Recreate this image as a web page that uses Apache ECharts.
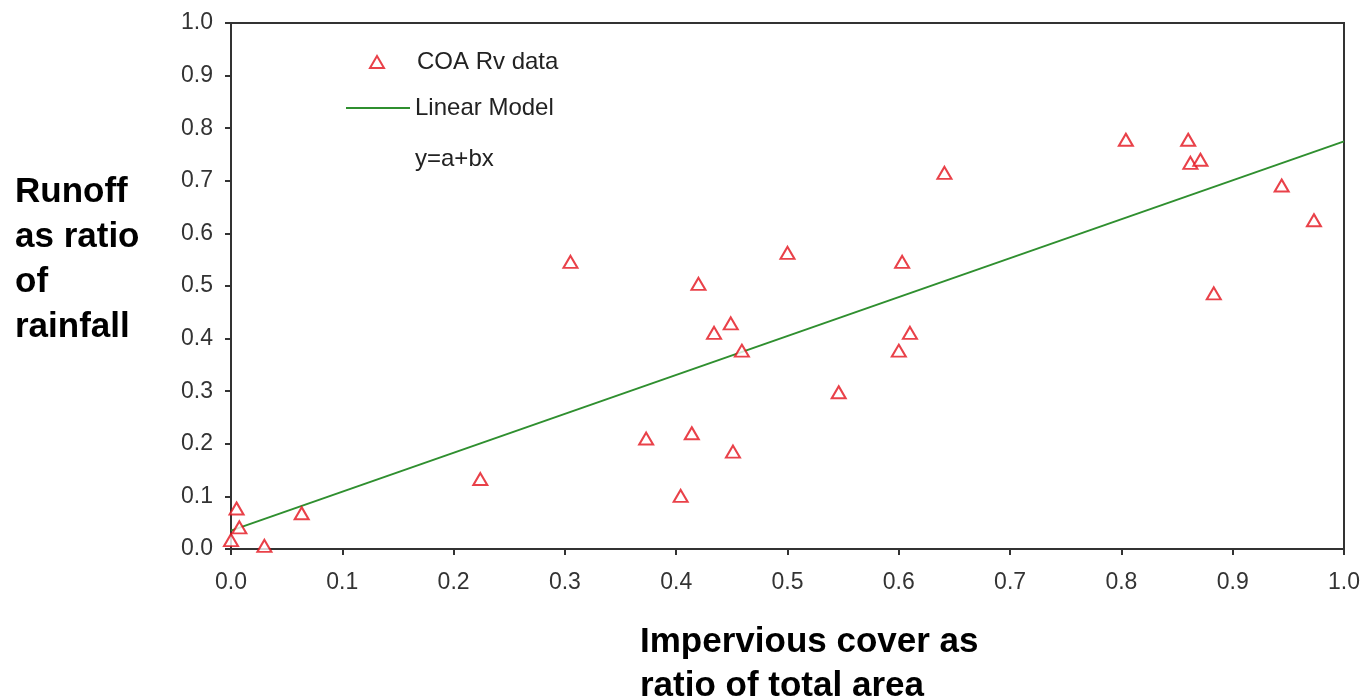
<!DOCTYPE html>
<html>
<head>
<meta charset="utf-8">
<script src="https://cdn.jsdelivr.net/npm/echarts@6/dist/echarts.min.js"></script>
<style>
  html, body { margin: 0; padding: 0; background: #fff; }
  #chart { width: 1369px; height: 700px; }
</style>
</head>
<body>
<div id="chart"></div>
<script>
// Measured points (impervious ratio, runoff ratio)
const imperviousX = [0.0, 0.005, 0.0075, 0.030, 0.0635, 0.224, 0.305, 0.373, 0.404, 0.414,
  0.420, 0.434, 0.449, 0.451, 0.459, 0.500, 0.546, 0.600, 0.603, 0.610,
  0.641, 0.804, 0.860, 0.862, 0.871, 0.883, 0.944, 0.973];
const runoffY = [0.017, 0.077, 0.041, 0.006, 0.068, 0.133, 0.546, 0.210, 0.101, 0.220,
  0.504, 0.411, 0.429, 0.185, 0.377, 0.563, 0.298, 0.377, 0.546, 0.411,
  0.715, 0.778, 0.778, 0.734, 0.740, 0.486, 0.691, 0.625];

// Fitted line end points
const modelX = [0.0, 1.0];
const modelY = [0.035, 0.775];

const axisTicks = [0.0, 0.1, 0.2, 0.3, 0.4, 0.5, 0.6, 0.7, 0.8, 0.9, 1.0];

const RED = '#e3121c';
const GREEN = '#2f8f2f';

const chart = echarts.init(document.getElementById('chart'));

const axisCommon = {
  type: 'value',
  min: axisTicks[0],
  max: axisTicks[axisTicks.length - 1],
  interval: 0.1,
  axisLine: {show: true, lineStyle: {color: '#333', width: 2}},
  axisTick: {show: true, inside: false, length: 6, lineStyle: {color: '#333', width: 2}},
  splitLine: {show: false},
  axisLabel: {
    color: '#333',
    fontFamily: 'Liberation Sans',
    fontSize: 23,
    formatter: v => v.toFixed(1)
  }
};

const legendText = {color: '#222', fontFamily: 'Liberation Sans', fontSize: 24};

const option = {
  backgroundColor: '#fff',
  animation: false,
  grid: {
    left: 231,
    right: 25,
    top: 23,
    bottom: 151,
    show: true,
    borderColor: '#333',
    borderWidth: 2
  },
  xAxis: Object.assign({}, axisCommon, {
    axisLabel: Object.assign({}, axisCommon.axisLabel, {margin: 22})
  }),
  yAxis: Object.assign({}, axisCommon, {
    axisLabel: Object.assign({}, axisCommon.axisLabel, {margin: 18})
  }),
  legend: [{
    data: [{name: 'COA Rv data', icon: 'triangle'}],
    left: 364,
    top: 45,
    itemWidth: 14,
    itemHeight: 12,
    textStyle: Object.assign({}, legendText, {padding: [0, 0, 0, 28]})
  }, {
    data: [{name: 'Linear Model', icon: 'rect'}],
    left: 341,
    top: 91,
    itemWidth: 64,
    itemHeight: 2,
    textStyle: legendText
  }],
  graphic: [{
    type: 'text',
    left: 415,
    top: 147,
    style: {text: 'y=a+bx', fill: '#222', font: '24px "Liberation Sans"'}
  }, {
    type: 'text',
    left: 15,
    top: 170,
    style: {
      text: 'Runoff\nas ratio\nof\nrainfall',
      fill: '#000',
      font: 'bold 35px "Liberation Sans"',
      lineHeight: 45
    }
  }, {
    type: 'text',
    left: 640,
    top: 620,
    style: {
      text: 'Impervious cover as\nratio of total area',
      fill: '#000',
      font: 'bold 35px "Liberation Sans"',
      lineHeight: 44
    }
  }],
  series: [{
    name: 'COA Rv data',
    type: 'scatter',
    symbol: 'triangle',
    symbolSize: [14, 12],
    itemStyle: {color: '#fff', borderColor: RED, borderWidth: 2},
    data: imperviousX.map((x, i) => [x, runoffY[i]]),
    z: 3
  }, {
    name: 'Linear Model',
    type: 'line',
    symbol: 'none',
    itemStyle: {color: GREEN},
    lineStyle: {color: GREEN, width: 2},
    data: modelX.map((x, i) => [x, modelY[i]]),
    z: 2
  }]
};

chart.setOption(option);
</script>
</body>
</html>
